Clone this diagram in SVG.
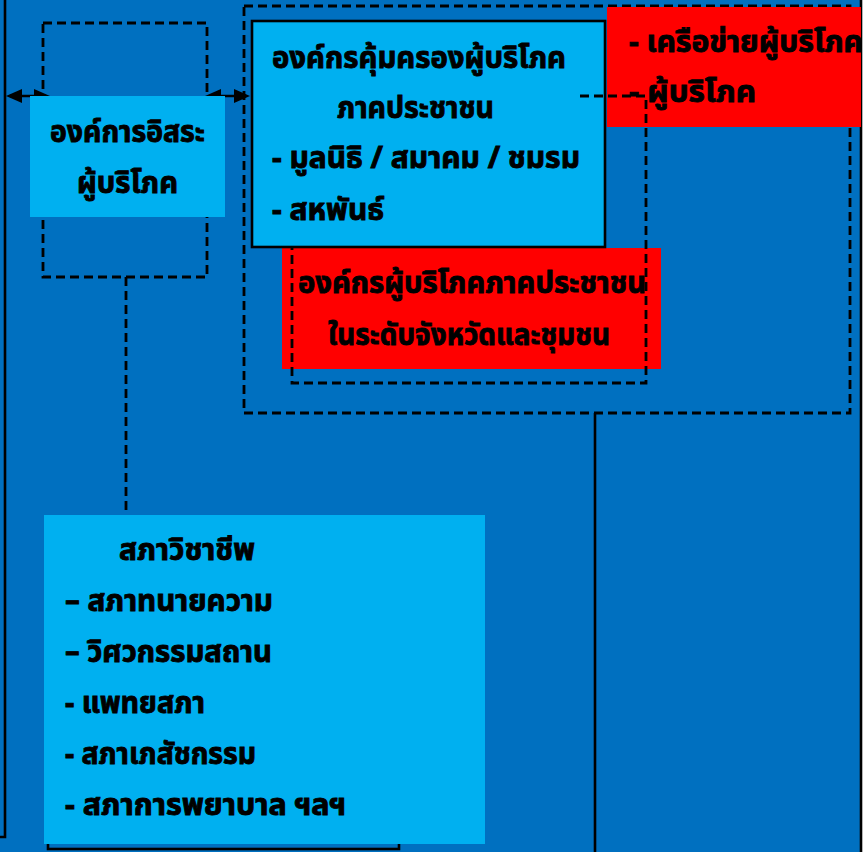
<svg xmlns="http://www.w3.org/2000/svg" width="866" height="852" viewBox="0 0 866 852">
<style>
.t{font-family:"Noto Sans Thai","Noto Sans","DejaVu Sans",sans-serif;font-weight:bold;font-size:30px;fill:#000;stroke:#000;stroke-width:0.9}
.d{fill:none;stroke:#000;stroke-width:2.8;stroke-dasharray:9 5}
.s{fill:none;stroke:#000;stroke-width:2.6}
.lb{fill:#00B0F0}
.rd{fill:#FF0000}
.ah{fill:#000}
</style>
<rect x="0" y="0" width="866" height="852" fill="#FFFFFF"/>
<rect x="0" y="0" width="861" height="852" fill="#0070C0"/>
<g id="frame">
<path class="s" d="M5,0 V837 H0"/>
<line class="s" x1="861" y1="0" x2="861" y2="852"/>
<rect class="s" x="48" y="520" width="351" height="329"/>
</g>
<g id="connectors">
<rect class="d" x="43" y="23" width="164" height="254"/>
<line class="d" x1="126" y1="277" x2="126" y2="515"/>
<rect class="d" x="244" y="6" width="606" height="407"/>
<line class="s" x1="595" y1="413" x2="595" y2="852"/>
<line class="s" x1="10" y1="96" x2="46" y2="96"/>
<polygon class="ah" points="6,96 22,89 22,103"/>
<polygon class="ah" points="50,96 34,89 34,103"/>
<line class="s" x1="209" y1="96" x2="246" y2="96"/>
<polygon class="ah" points="205,96 221,89 221,103"/>
<polygon class="ah" points="250,96 234,89 234,103"/>
</g>
<g id="independent">
<rect class="lb" x="30" y="96" width="195" height="121"/>
<text class="t" x="50" y="142" textLength="155" lengthAdjust="spacingAndGlyphs">องค์การอิสระ</text>
<text class="t" x="77" y="193" textLength="101" lengthAdjust="spacingAndGlyphs">ผู้บริโภค</text>
</g>
<g id="network">
<rect class="rd" x="607" y="7" width="254" height="120"/>
<text class="t" x="629" y="52" textLength="234" lengthAdjust="spacingAndGlyphs">- เครือข่ายผู้บริโภค</text>
<text class="t" x="629" y="102" textLength="127" lengthAdjust="spacingAndGlyphs">- ผู้บริโภค</text>
</g>
<g id="provincial">
<rect class="rd" x="282" y="248" width="379" height="121"/>
<text class="t" x="298" y="293" textLength="348" lengthAdjust="spacingAndGlyphs">องค์กรผู้บริโภคภาคประชาชน</text>
<text class="t" x="328" y="345" textLength="282" lengthAdjust="spacingAndGlyphs">ในระดับจังหวัดและชุมชน</text>
</g>
<g id="civil">
<rect class="lb" x="252" y="21" width="353" height="226" stroke="#000" stroke-width="2.6"/>
<text class="t" x="272" y="68" textLength="294" lengthAdjust="spacingAndGlyphs">องค์กรคุ้มครองผู้บริโภค</text>
<text class="t" x="337" y="118" textLength="157" lengthAdjust="spacingAndGlyphs">ภาคประชาชน</text>
<text class="t" x="272" y="168" textLength="308" lengthAdjust="spacingAndGlyphs">- มูลนิธิ / สมาคม / ชมรม</text>
<text class="t" x="272" y="220" textLength="112" lengthAdjust="spacingAndGlyphs">- สหพันธ์</text>
</g>
<path class="d" d="M580,96 H646 V383 H292 V248"/>
<g id="professional">
<rect class="lb" x="44" y="515" width="441" height="329"/>
<text class="t" x="119" y="560" textLength="136" lengthAdjust="spacingAndGlyphs">สภาวิชาชีพ</text>
<text class="t" x="65" y="611" textLength="208" lengthAdjust="spacingAndGlyphs">– สภาทนายความ</text>
<text class="t" x="65" y="662" textLength="207" lengthAdjust="spacingAndGlyphs">– วิศวกรรมสถาน</text>
<text class="t" x="65" y="713" textLength="140" lengthAdjust="spacingAndGlyphs">- แพทยสภา</text>
<text class="t" x="65" y="764" textLength="191" lengthAdjust="spacingAndGlyphs">- สภาเภสัชกรรม</text>
<text class="t" x="65" y="815" textLength="281" lengthAdjust="spacingAndGlyphs">- สภาการพยาบาล ฯลฯ</text>
</g>
</svg>
